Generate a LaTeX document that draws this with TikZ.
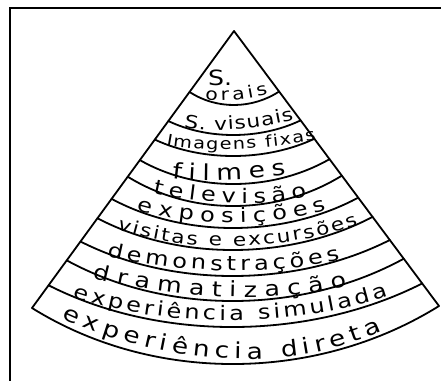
\documentclass[tikz,border=0pt]{standalone}
\usepackage{fontspec}
\newfontfamily\handfont[FakeStretch=1.2]{DejaVu Sans}
\usetikzlibrary{calc,decorations.text}
\newcommand\bandfont[1]{\handfont\fontsize{#1}{#1}\selectfont}
\begin{document}
\begin{tikzpicture}[x=1pt,y=-1pt,
  edge/.style={line width=1.8pt,line cap=round,line join=round},
  frame/.style={line width=2.2pt},
  bandtext/.style={decorate,decoration={text along path,text align=fit to path,text={#1}}}]
\useasboundingbox (0,0) rectangle (441,380);
% frame
\draw[frame] (10,382) -- (10,8) -- (443,8);
% cone
\coordinate (A) at (234,31);
\coordinate (L) at (32,308);
\coordinate (R) at (439,306);
\draw[edge] (L) -- (A) -- (R);
\foreach \t/\my [count=\i] in {0.22/105,0.325/135,0.392/156,0.466/184,0.526/206,0.606/228,0.676/250,0.76/276,0.828/301,0.918/327,1/364}{
  \pgfmathsetmacro\D{0.3*\t*407}
  \pgfmathsetmacro\s{1.3333*(\my-31-\t*276)}
  \coordinate (l\i) at ($(A)!\t!(L)$);
  \coordinate (r\i) at ($(A)!\t!(R)$);
  \draw[edge] (l\i) .. controls +(\D,\s) and +(-\D,\s) .. (r\i);
}
% texts
\node[font=\bandfont{21},inner sep=0pt] (s1) at (220,78) {S.};
\path[bandtext={|\bandfont{17}|orais}] (205,99) .. controls +(19,4.4) and +(-19,4.4) .. (268,94);
\path[bandtext={|\bandfont{18}|S. visuais}] (184,127) .. controls +(33,7.3) and +(-33,7.3) .. (294,120);
\path[bandtext={|\bandfont{16}|Imagens fixas}] (166,145) .. controls +(45,8.7) and +(-45,8.7) .. (316,140);
\path[bandtext={|\bandfont{22}|filmes}] (172,178) .. controls +(34,4.7) and +(-34,4.7) .. (286,175);
\path[bandtext={|\bandfont{20}|televisão}] (153,193) .. controls +(46,10.7) and +(-46,10.7) .. (307,197);
\path[bandtext={|\bandfont{20}|exposições}] (137,210) .. controls +(57,16.7) and +(-57,16.7) .. (327,210);
\path[bandtext={|\bandfont{18}|visitas e excursões}] (117,229) .. controls +(72,25.3) and +(-72,25.3) .. (358,225);
\path[bandtext={|\bandfont{20}|demonstrações}] (107,256) .. controls +(70,16.7) and +(-70,16.7) .. (340,260);
\path[bandtext={|\bandfont{21}|dramatização}] (93,278) .. controls +(76,19.3) and +(-76,19.3) .. (347,286);
\path[bandtext={|\bandfont{20}|experiência simulada}] (73,297) .. controls +(94,32) and +(-94,32) .. (388,296);
\path[bandtext={|\bandfont{22}|experiência direta}] (62,318) .. controls +(96,45) and +(-96,45) .. (382,331);
\end{tikzpicture}
\end{document}
